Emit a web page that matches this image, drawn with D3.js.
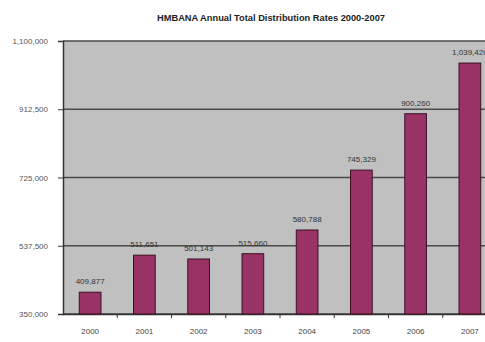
<!DOCTYPE html>
<html><head><meta charset="utf-8">
<script src="https://cdn.jsdelivr.net/npm/d3@7"></script>
<style>body{margin:0;background:#fff;}svg{display:block;font-family:"Liberation Sans",Arial,sans-serif;}</style>
</head><body>
<script>
const title = "HMBANA Annual Total Distribution Rates 2000-2007";
const years = ["2000","2001","2002","2003","2004","2005","2006","2007"];
const values = [409877, 511651, 501143, 515660, 580788, 745329, 900260, 1039420];
const valueLabels = ["409,877","511,651","501,143","515,660","580,788","745,329","900,260","1,039,420"];
const yTicks = [350000, 537500, 725000, 912500, 1100000];

const W = 485, H = 342;
const m = {left: 63, top: 41, bottom: 314};
const plotW = 434;

const svg = d3.select("body").append("svg").attr("width", W).attr("height", H);

const x = d3.scaleBand().domain(years).range([m.left, m.left + plotW]).paddingInner(0.6).paddingOuter(0.3);
const xStep = d3.scaleBand().domain(years).range([m.left, m.left + plotW]);
const y = d3.scaleLinear().domain([350000, 1100000]).range([m.bottom, m.top]);

svg.append("rect").attr("x", m.left).attr("y", m.top).attr("width", plotW).attr("height", m.bottom - m.top).attr("fill", "#c0c0c0");

// gridlines
svg.selectAll(".grid").data(yTicks).enter().append("line")
  .attr("x1", m.left).attr("x2", m.left + plotW)
  .attr("y1", d => y(d)).attr("y2", d => y(d))
  .attr("stroke", "#4a4a4a").attr("stroke-width", 1.5);

// y axis
const yAxis = d3.axisLeft(y).tickValues(yTicks).tickSize(5).tickPadding(10).tickFormat(d3.format(","));
const gy = svg.append("g").attr("transform", `translate(${m.left},0)`).call(yAxis);
gy.select(".domain").attr("stroke", "#333").attr("stroke-width", 1.5);
gy.selectAll(".tick line").attr("stroke", "#333");
gy.selectAll("text").attr("font-size", 8).attr("fill", "#555");

// x axis
const xAxis = d3.axisBottom(xStep).tickSize(0).tickPadding(14);
const gx = svg.append("g").attr("transform", `translate(0,${m.bottom})`).call(xAxis);
gx.select(".domain").attr("stroke", "#333").attr("stroke-width", 1.5);
gx.selectAll("text").attr("font-size", 8).attr("fill", "#444");
gx.selectAll(".sep").data(years.slice(1)).enter().append("line")
  .attr("x1", d => xStep(d)).attr("x2", d => xStep(d)).attr("y1", 0).attr("y2", 4)
  .attr("stroke", "#333");

// bars
svg.selectAll(".bar").data(values).enter().append("rect")
  .attr("x", (d, i) => x(years[i])).attr("width", x.bandwidth())
  .attr("y", d => y(d)).attr("height", d => y(350000) - y(d))
  .attr("fill", "#993366").attr("stroke", "#3a1025").attr("stroke-width", 1);

// value labels
svg.selectAll(".vl").data(values).enter().append("text")
  .attr("x", (d, i) => x(years[i]) + x.bandwidth() / 2).attr("y", d => y(d) - 8)
  .attr("text-anchor", "middle").attr("font-size", 8).attr("fill", "#333")
  .text((d, i) => valueLabels[i]);

svg.append("text").attr("x", 271).attr("y", 21).attr("text-anchor", "middle")
  .attr("font-size", 9).attr("font-weight", "bold").attr("fill", "#222")
  .attr("textLength", 228).attr("lengthAdjust", "spacingAndGlyphs")
  .text(title);
</script>
</body></html>
